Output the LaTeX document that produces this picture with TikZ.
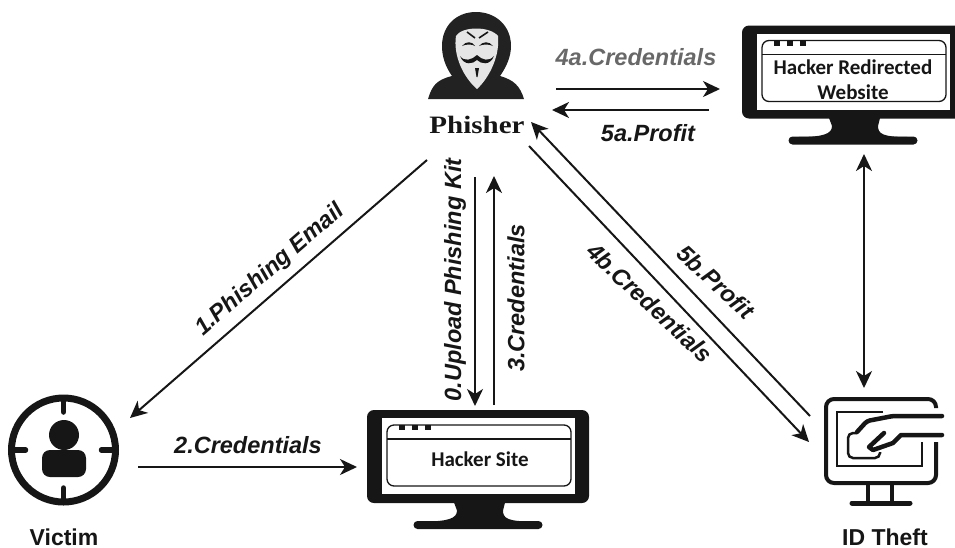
\documentclass[tikz,border=0pt]{standalone}
\usepackage{fontspec}
\setmainfont{Liberation Sans}
\newfontfamily\screenfont{Carlito}
\newfontfamily\titlefont[FakeStretch=1.16]{Liberation Serif}
\usetikzlibrary{arrows.meta}
\definecolor{ink}{HTML}{161616}
\tikzset{
    monitor/.pic={
        % Carcass
        \fill[ink, rounded corners=7] (-111,-46.5) rectangle (111,46.5);
        \fill[white] (-96,-38.5) rectangle (97,37.5);
        % Stand
        \fill[ink] (-24,46) -- (-21,54) .. controls (-21,62) and (-30,65) .. (-55,65) -- (55,65) .. controls (30,65) and (25,62) .. (25,54) -- (27,46) -- cycle;
        \fill[ink, rounded corners=4] (-64.5,64.5) rectangle (64.5,72.5);
        % Window
        \draw[ink, line width=1.3, rounded corners=7] (-91,-31.5) rectangle (93,29.5);
        \draw[ink, line width=1.3] (-91,-17.5) -- (93,-17.5);
        \foreach \dotx in {-79,-66,-53}
            \fill[ink] (\dotx,-31.5) rectangle ++(6,5);
    },
    every node/.style={text=ink},
    flow/.style={-{Stealth[length=17, width=16, inset=5]}, ink, line width=2},
    flowboth/.style={{Stealth[length=17, width=16, inset=5]}-{Stealth[length=17, width=16, inset=5]}, ink, line width=2},
    flowlabel/.style={font=\fontsize{23.5}{26}\selectfont\bfseries\itshape, inner sep=0},
    actor/.style={font=\fontsize{23}{25}\selectfont\bfseries, inner sep=0},
    screentext/.style={font=\fontsize{21}{25}\selectfont\screenfont\bfseries, align=center, inner sep=0}
}
\begin{document}
\begin{tikzpicture}[x=1pt, y=-1pt]
\useasboundingbox (0,0) rectangle (955,547);
% Phisher
\fill[ink!95] (428,99) .. controls (432,86) and (436,80) .. (452,76) .. controls (445,66) and (442,56) .. (442,46) .. controls (442,26) and (456,12) .. (476,12) .. controls (496,12) and (511,26) .. (511,46) .. controls (511,56) and (507,66) .. (500,76) .. controls (514,80) and (520,86) .. (524,99) -- cycle;
\fill[white!90!black] (456,36) .. controls (462,26) and (490,26) .. (498,36) .. controls (500,55) and (490,77) .. (477,89) .. controls (463,77) and (453,55) .. (456,36) -- cycle;
\draw[ink, line width=1.6] (467,32) -- (475,38) (488,32) -- (479,38);
\fill[ink] (462,46) .. controls (466,41) and (472,41) .. (475,46) .. controls (472,44) and (466,44) .. (462,46);
\fill[ink] (479,46) .. controls (483,41) and (489,41) .. (493,46) .. controls (489,44) and (483,44) .. (479,46);
\fill[ink] (460,56) .. controls (464,62) and (472,60) .. (477,55) .. controls (482,60) and (489,62) .. (494,56) .. controls (490,66) and (481,64) .. (477,60) .. controls (473,64) and (464,66) .. (460,56);
\fill[ink] (475,68) -- (479,68) -- (477.5,77) -- (476.5,77) -- cycle;
\node[font=\fontsize{25}{27}\selectfont\titlefont\bfseries, inner sep=0] (phisher) at (477,125) {Phisher};
% Hacker Redirected Website
\pic at (853,72) {monitor};
\node[screentext] (redirected) at (853,79.5) {Hacker Redirected\\Website};
% Victim
\draw[ink, line width=7] (63.5,450) circle (52);
\foreach \tickangle in {0,90,180,270}
    \draw[ink, line width=5.5, line cap=round] (63.5,450) ++(\tickangle:50) -- ++(\tickangle:-12);
\fill[ink] (64,435) circle (15);
\fill[ink, rounded corners=8] (42,450) rectangle (86,477);
\node[actor] (victim) at (64,537) {Victim};
% Hacker Site
\pic at (478,456.5) {monitor};
\node[screentext] (site) at (480,459) {Hacker Site};
% ID Theft
\draw[ink, line width=4, rounded corners=8] (936,408) -- (936,399) -- (826,399) -- (826,483) -- (936,483) -- (936,442);
\draw[ink, line width=2.5] (883,412) -- (837,412) -- (837,466) -- (922,466) -- (922,442);
\draw[ink, line width=4.5, rounded corners=3, line cap=round] (942,416) -- (893,416) -- (867,421) -- (857,432);
\draw[ink, line width=2.5, rounded corners=5] (857,433) -- (848,433) -- (848,458) -- (880,458) -- (880,452);
\draw[ink, line width=4.5, line cap=round, line join=round] (884,433) -- (869,447) -- (873,450) -- (893,443) -- (901,435) -- (942,435);
\draw[ink, line width=4] (868,483) -- (868,502) (892,483) -- (892,502);
\draw[ink, line width=5, line cap=round] (852,503) -- (910,503);
\node[actor] (idtheft) at (885,537) {ID Theft};
% Connector ends
\coordinate (phisherR1) at (556,89);
\coordinate (redirectL1) at (720,89);
\coordinate (redirectL2) at (709,110);
\coordinate (phisherR2) at (552,110);
\coordinate (phisherB1) at (427,160);
\coordinate (victimT) at (130,418);
\coordinate (victimR) at (138,467);
\coordinate (siteL) at (357,467);
\coordinate (phisherB2) at (475,177);
\coordinate (siteT1) at (475,406);
\coordinate (siteT2) at (494,405);
\coordinate (phisherB3) at (494,176);
\coordinate (phisherB4) at (529,146);
\coordinate (idtheftL1) at (809,442);
\coordinate (idtheftL2) at (810,416);
\coordinate (phisherB5) at (531,122);
\coordinate (redirectB) at (864,154);
\coordinate (idtheftT) at (864,388);
% Connectors
\draw[flow] (phisherR1) -- (redirectL1);
\draw[flow] (redirectL2) -- (phisherR2);
\draw[flow] (phisherB1) -- (victimT);
\draw[flow] (victimR) -- (siteL);
\draw[flow] (phisherB2) -- (siteT1);
\draw[flow] (siteT2) -- (phisherB3);
\draw[flow] (phisherB4) -- (idtheftL1);
\draw[flow] (idtheftL2) -- (phisherB5);
\draw[flowboth] (redirectB) -- (idtheftT);
% Labels
\node[flowlabel, text=ink!65] (label4a) at (636,57) {4a.Credentials};
\node[flowlabel] (label5a) at (648,133) {5a.Profit};
\node[flowlabel, rotate=41] (label1) at (270,270) {1.Phishing Email};
\node[flowlabel] (label2) at (248,445) {2.Credentials};
\node[flowlabel, rotate=90] (label0) at (455,280) {0.Upload Phishing Kit};
\node[flowlabel, rotate=90] (label3) at (516,298) {3.Credentials};
\node[flowlabel, rotate=-43] (label4b) at (650,303) {4b.Credentials};
\node[flowlabel, rotate=-43] (label5b) at (716,282) {5b.Profit};
\end{tikzpicture}
\end{document}
